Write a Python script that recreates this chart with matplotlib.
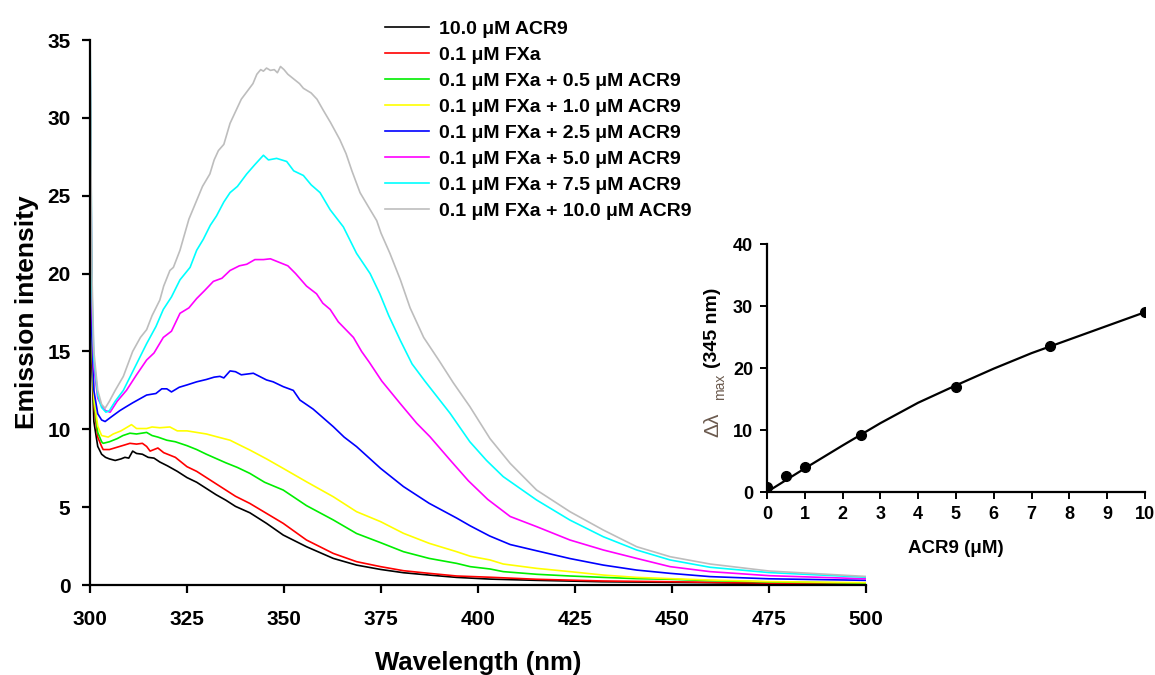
import matplotlib
matplotlib.use("Agg")
import matplotlib.pyplot as plt

plt.rcParams['font.family'] = ['Liberation Sans', 'DejaVu Sans']
plt.rcParams['font.weight'] = 'bold'

# emission spectra (wavelength nm, intensity)
wl_black = [300, 300.5, 301, 302, 303, 304, 305, 306.5, 308, 309, 310, 311, 312, 313.5, 315, 316.5, 318, 320, 322.5, 325, 327.5, 330, 332.5, 335, 337.5, 341.2, 345.5, 349.8, 355.8, 362.7, 368.7, 374.9, 380.8, 387.4, 394.5, 403.1, 415, 432, 460, 475, 500]
int_black = [27, 14, 10.5, 8.9, 8.4, 8.2, 8.1, 8.0, 8.1, 8.2, 8.15, 8.6, 8.45, 8.4, 8.2, 8.15, 7.9, 7.65, 7.3, 6.9, 6.6, 6.2, 5.8, 5.45, 5.05, 4.64, 3.96, 3.21, 2.46, 1.71, 1.28, 1.0, 0.79, 0.64, 0.49, 0.38, 0.3, 0.21, 0.15, 0.1, 0.05]

wl_red = [300, 300.5, 301, 302, 303, 303.4, 305, 307, 309, 310.3, 312, 313.5, 314.6, 315.5, 316.5, 317.5, 319, 320.5, 322, 325, 327.5, 330, 332.5, 335, 337.5, 341.2, 345.5, 349.8, 355.8, 362.7, 368.7, 374.9, 380.8, 387.4, 394.5, 403.1, 415, 432, 450, 460, 475, 500]
int_red = [31, 15, 11.5, 9.5, 8.9, 8.7, 8.7, 8.85, 9.0, 9.1, 9.05, 9.1, 8.9, 8.6, 8.7, 8.8, 8.5, 8.35, 8.2, 7.6, 7.3, 6.9, 6.5, 6.1, 5.7, 5.24, 4.6, 3.96, 2.89, 2.03, 1.5, 1.18, 0.92, 0.75, 0.58, 0.5, 0.37, 0.26, 0.21, 0.17, 0.12, 0.08]

wl_green = [300, 300.5, 301, 302, 303, 303.4, 305, 307, 308.5, 310.3, 312, 314.6, 316, 317.5, 319.8, 322, 325, 327.5, 330, 335, 338, 341.2, 345, 349.8, 355.8, 362.7, 368.7, 374.9, 380.8, 387.4, 394.5, 398, 403.1, 406.5, 415.1, 423.7, 432.3, 440.9, 449.5, 459.8, 475, 500]
int_green = [33, 15.5, 11.8, 9.8, 9.2, 9.1, 9.2, 9.4, 9.6, 9.75, 9.7, 9.8, 9.6, 9.5, 9.3, 9.2, 8.95, 8.7, 8.4, 7.85, 7.55, 7.17, 6.6, 6.1, 5.1, 4.18, 3.31, 2.72, 2.14, 1.71, 1.39, 1.18, 1.03, 0.86, 0.69, 0.58, 0.49, 0.41, 0.37, 0.28, 0.2, 0.12]

wl_yellow = [300, 300.5, 301, 302, 303, 304.7, 306, 308, 310.7, 312, 314.6, 316, 318, 320.6, 322.5, 325, 327.5, 330, 333, 336.1, 338.5, 341.2, 345.5, 349.8, 355.8, 362.7, 368.7, 374.9, 380.8, 387.4, 394.5, 398, 403.1, 406.5, 415.1, 423.7, 432.3, 440.9, 449.5, 459.8, 475, 500]
int_yellow = [34, 16, 12, 10.2, 9.6, 9.5, 9.7, 9.9, 10.3, 10.05, 10.05, 10.15, 10.1, 10.15, 9.9, 9.9, 9.8, 9.7, 9.5, 9.3, 9.0, 8.67, 8.1, 7.49, 6.63, 5.67, 4.71, 4.07, 3.32, 2.68, 2.14, 1.85, 1.61, 1.35, 1.07, 0.86, 0.64, 0.49, 0.41, 0.32, 0.22, 0.15]

wl_blue = [300, 300.5, 301, 302, 303, 303.9, 305.5, 307.7, 309, 311, 314.6, 317, 318.5, 319.8, 321, 323, 325, 327.5, 330, 332, 333.5, 334.5, 336.1, 337.5, 339, 342.1, 345.5, 347.2, 349.8, 352.4, 354.1, 357.5, 362.7, 365.5, 368.7, 374.9, 380.8, 387.4, 394.5, 398, 403, 408.3, 415.1, 423.7, 432.3, 440.9, 449.5, 459.8, 475, 500]
int_blue = [30.7, 16, 12.5, 11, 10.6, 10.5, 10.8, 11.2, 11.4, 11.7, 12.2, 12.3, 12.6, 12.6, 12.4, 12.7, 12.85, 13.05, 13.2, 13.35, 13.4, 13.3, 13.75, 13.7, 13.5, 13.6, 13.17, 13.05, 12.74, 12.5, 11.88, 11.3, 10.17, 9.5, 8.89, 7.49, 6.32, 5.25, 4.3, 3.8, 3.15, 2.6, 2.2, 1.7, 1.28, 0.96, 0.75, 0.54, 0.4, 0.3]

wl_magenta = [300, 300.5, 301, 302, 303, 304, 305.2, 307, 309.4, 312, 314.6, 316.5, 318.9, 321, 323.2, 325.5, 327.5, 329.5, 331.8, 334, 336.1, 338.5, 340.4, 342.5, 344.7, 346.5, 349, 351, 353, 355.8, 358.4, 360, 361.9, 364, 367.9, 370, 372, 375.2, 379.9, 384.2, 387.6, 392.8, 397.5, 402.5, 408.3, 415.1, 423.7, 432.3, 440.9, 449.5, 459.8, 475, 500]
int_magenta = [34.5, 18, 14, 12, 11.5, 11.2, 11.1, 11.8, 12.5, 13.5, 14.45, 14.9, 15.9, 16.3, 17.45, 17.8, 18.4, 18.9, 19.5, 19.7, 20.2, 20.5, 20.6, 20.9, 20.9, 20.95, 20.7, 20.5, 20.0, 19.2, 18.7, 18.1, 17.7, 16.9, 15.9, 15.0, 14.3, 13.1, 11.67, 10.39, 9.53, 8.03, 6.7, 5.5, 4.4, 3.75, 2.89, 2.25, 1.71, 1.18, 0.86, 0.6, 0.4]

wl_cyan = [300, 300.5, 301, 302, 303, 304.1, 305, 306.5, 308.6, 310, 312, 314.6, 317, 318.9, 321, 323.2, 325.8, 327.5, 329.2, 331, 332.6, 334.5, 336.1, 338, 340.4, 342.5, 344.7, 346, 348.1, 350.7, 352.5, 355, 357, 359.3, 361.9, 365.3, 368.7, 372.2, 374.7, 377, 380, 383, 386.3, 392.8, 397.9, 402.2, 406.5, 415.1, 423.7, 432.3, 440.9, 449.5, 459.8, 475, 500]
int_cyan = [36, 19, 14.5, 12.2, 11.4, 11.1, 11.2, 11.8, 12.5, 13.2, 14.2, 15.5, 16.6, 17.7, 18.5, 19.6, 20.4, 21.5, 22.2, 23.1, 23.7, 24.6, 25.2, 25.6, 26.4, 27.0, 27.6, 27.3, 27.4, 27.2, 26.6, 26.3, 25.7, 25.2, 24.1, 23.0, 21.3, 20.0, 18.7, 17.3, 15.7, 14.2, 13.1, 11.03, 9.2, 8.0, 6.96, 5.46, 4.17, 3.1, 2.25, 1.61, 1.14, 0.8, 0.5]

wl_gray = [300, 300.5, 301, 302, 303, 303.9, 305, 306.5, 308.6, 311, 313, 314.6, 316, 318, 319, 320.6, 321.5, 323.2, 324, 325.5, 327.5, 329, 330.9, 332, 333.1, 334.5, 336.1, 337.5, 339, 340.8, 342, 343, 344, 344.7, 345.5, 346.5, 347.5, 348.3, 349.1, 350, 351, 352.5, 354, 355, 357, 358.5, 360.1, 362, 364.4, 366, 367.5, 369.6, 371.5, 373.9, 375, 377.3, 380, 382.5, 386, 390, 393.6, 397.9, 403.1, 408.3, 415.1, 423.7, 432.3, 440.9, 449.5, 459.8, 475, 500]
int_gray = [36, 20, 15, 12.5, 11.6, 11.35, 11.8, 12.5, 13.4, 15.0, 15.9, 16.4, 17.3, 18.3, 19.2, 20.2, 20.4, 21.5, 22.2, 23.5, 24.7, 25.6, 26.4, 27.3, 27.9, 28.3, 29.65, 30.4, 31.2, 31.8, 32.2, 32.8, 33.1, 33.0, 33.2, 33.05, 33.1, 32.9, 33.3, 33.1, 32.8, 32.5, 32.2, 31.9, 31.6, 31.2, 30.5, 29.7, 28.6, 27.7, 26.6, 25.2, 24.4, 23.4, 22.6, 21.3, 19.6, 17.8, 15.9, 14.4, 13.0, 11.46, 9.4, 7.81, 6.1, 4.71, 3.53, 2.46, 1.82, 1.35, 0.9, 0.55]

labels = ['10.0 \u03bcM ACR9', '0.1 \u03bcM FXa',
          '0.1 \u03bcM FXa + 0.5 \u03bcM ACR9', '0.1 \u03bcM FXa + 1.0 \u03bcM ACR9',
          '0.1 \u03bcM FXa + 2.5 \u03bcM ACR9', '0.1 \u03bcM FXa + 5.0 \u03bcM ACR9',
          '0.1 \u03bcM FXa + 7.5 \u03bcM ACR9', '0.1 \u03bcM FXa + 10.0 \u03bcM ACR9']
colors = ['#000000', '#ff0000', '#00ee00', '#ffff00', '#0000ff', '#ff00ff', '#00ffff', '#bdbdbd']

# inset: shift at 345 nm vs ACR9 concentration
conc = [0, 0.5, 1, 2.5, 5, 7.5, 10]
shift = [0.76, 2.6, 4.1, 9.25, 16.9, 23.5, 29.1]
fit_x = [0, 1, 2, 3, 4, 5, 6, 7, 8, 9, 10]
fit_y = [0, 3.8, 7.5, 11.1, 14.4, 17.2, 19.9, 22.4, 24.6, 26.8, 29.0]

fig = plt.figure(figsize=(11.55, 6.75), dpi=100)
ax = fig.add_axes([0.0779, 0.1333, 0.6719, 0.8074])

series = [(wl_black, int_black), (wl_red, int_red), (wl_green, int_green),
          (wl_yellow, int_yellow), (wl_blue, int_blue), (wl_magenta, int_magenta),
          (wl_cyan, int_cyan), (wl_gray, int_gray)]
lines = []
for (x, y), c, lab in zip(series, colors, labels):
    ln, = ax.plot(x, y, color=c, lw=1.2, label=lab)
    lines.append(ln)

ax.set_xlim(300, 500)
ax.set_ylim(0, 35)
ax.set_xticks(range(300, 501, 25))
ax.set_yticks(range(0, 36, 5))
for s in ['top', 'right']:
    ax.spines[s].set_visible(False)
for s in ['left', 'bottom']:
    ax.spines[s].set_linewidth(1.6)
ax.tick_params(direction='out', length=6, width=1.6, labelsize=15)
ax.tick_params(axis='x', pad=12)
ax.tick_params(axis='y', pad=8)
for t in ax.get_xticklabels() + ax.get_yticklabels():
    t.set_fontweight('bold')
ax.set_xlabel('Wavelength (nm)', fontsize=18.5, fontweight='bold', labelpad=16)
ax.set_ylabel('Emission intensity', fontsize=19, fontweight='bold', labelpad=6)

fig.legend(handles=lines, loc='upper left', bbox_to_anchor=(0.333, 0.97),
           frameon=False, handlelength=2.3, handletextpad=0.5,
           labelspacing=0.43, borderaxespad=0, borderpad=0,
           prop={'weight': 'bold', 'size': 14})

# inset
ax2 = fig.add_axes([0.664, 0.2711, 0.3273, 0.3674])
ax2.plot(fit_x, fit_y, color='black', lw=1.6)
ax2.plot(conc, shift, 'o', color='black', ms=7)
ax2.set_xlim(0, 10)
ax2.set_ylim(0, 40)
ax2.set_xticks(range(0, 11))
ax2.set_yticks(range(0, 41, 10))
for s in ['top', 'right']:
    ax2.spines[s].set_visible(False)
for s in ['left', 'bottom']:
    ax2.spines[s].set_linewidth(1.6)
ax2.tick_params(direction='out', length=5, width=1.4, labelsize=13, pad=5)
for t in ax2.get_xticklabels() + ax2.get_yticklabels():
    t.set_fontweight('bold')
ax2.patch.set_alpha(0)
ax2.set_xlabel('ACR9 (\u03bcM)', fontsize=13.5, fontweight='bold', labelpad=12)

fig.text(713 / 1155, 1 - 425 / 675, '\u0394\u03bb', rotation=90,
         ha='center', va='center', fontsize=15, fontweight='normal',
         color='#6b5a4e')
fig.text(720 / 1155, 1 - 387 / 675, 'max', rotation=90,
         ha='center', va='center', fontsize=10, fontweight='normal',
         color='#6b5a4e')
fig.text(713 / 1155, 1 - 328 / 675, '(345 nm)', rotation=90,
         ha='center', va='center', fontsize=14, fontweight='bold')

fig.savefig('out.png', dpi=100)
